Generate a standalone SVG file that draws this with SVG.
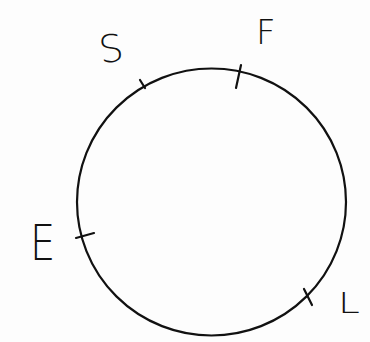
<svg xmlns="http://www.w3.org/2000/svg" width="370" height="342" viewBox="0 0 370 342">
<style>
.ln{fill:none;stroke:#111;stroke-width:2.2;stroke-linecap:round}
.lb{font-family:"DejaVu Sans",sans-serif;font-weight:200;fill:#111}
</style>
<rect width="370" height="342" fill="#fdfdfd"/>
<g id="circle">
<ellipse class="ln" cx="211.5" cy="202" rx="134.5" ry="133.5"/>
</g>
<g id="ticks">
<line class="ln" x1="140" y1="80" x2="145" y2="88"/>
<line class="ln" x1="241" y1="65" x2="236" y2="88"/>
<line class="ln" x1="76" y1="238" x2="94" y2="233"/>
<line class="ln" x1="304" y1="289" x2="312" y2="305"/>
</g>
<g id="S"><text class="lb" x="99" y="62" font-size="38" transform="rotate(-8 110 48)">S</text></g>
<g id="F"><text class="lb" x="256" y="44" font-size="34">F</text></g>
<g id="E"><text class="lb" x="30" y="260" font-size="50" transform="translate(30 260) scale(0.8 1) translate(-30 -260)">E</text></g>
<g id="L"><text class="lb" x="338" y="313" font-size="28" transform="translate(338 313) scale(1.4 1) translate(-338 -313)">L</text></g>
</svg>
